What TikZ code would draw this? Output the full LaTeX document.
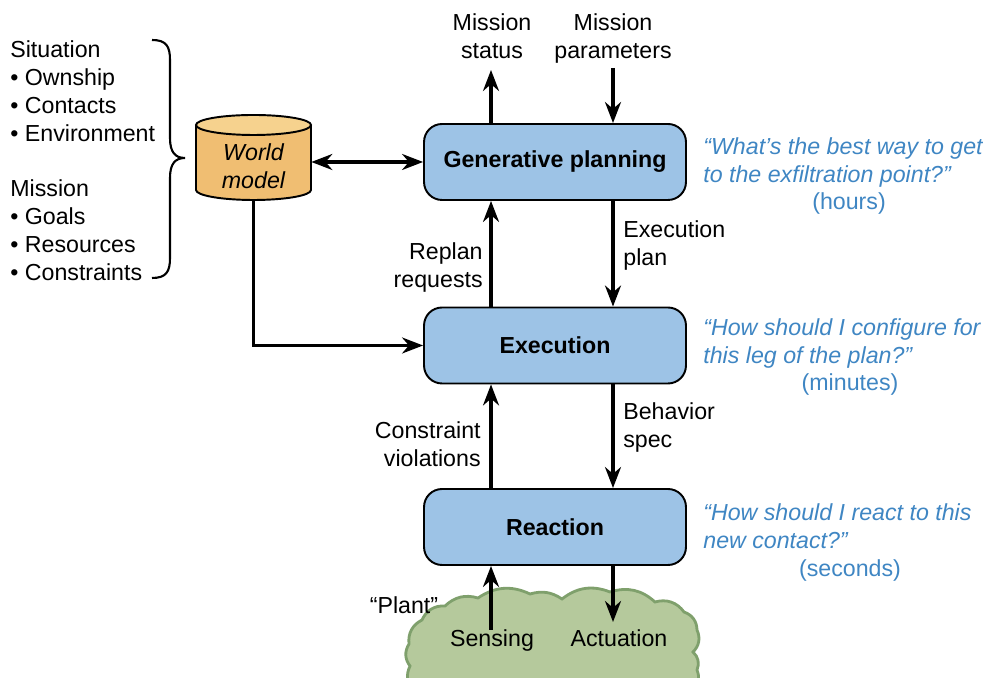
\documentclass[tikz,border=0pt]{standalone}
\usepackage{fontspec}
\setmainfont{Liberation Sans}
\usetikzlibrary{arrows.meta,calc}
\definecolor{boxblue}{HTML}{9DC3E6}
\definecolor{wmbody}{HTML}{F0BE72}
\definecolor{wmtop}{HTML}{F6D28E}
\definecolor{cloudfill}{HTML}{B5C99C}
\definecolor{cloudline}{HTML}{7FA06C}
\definecolor{qblue}{HTML}{3F86C3}
\tikzset{
  txt/.style={font=\fontsize{13.2}{15.9}\selectfont, inner sep=0pt, text=black},
  layer/.style={draw=black, line width=1.1pt, fill=boxblue, rounded corners=0.36cm,
    minimum width=5.24cm, minimum height=1.52cm, font=\fontsize{13.2}{15.9}\selectfont\bfseries},
  arr/.style={line width=1.8pt, -{Stealth[length=0.42cm,width=0.32cm]}},
  dblarr/.style={line width=1.8pt, {Stealth[length=0.42cm,width=0.32cm]}-{Stealth[length=0.42cm,width=0.32cm]}},
  quotetxt/.style={inner sep=0pt, text=qblue, font=\fontsize{13.2}{15.9}\selectfont\itshape, align=left},
  timetxt/.style={inner sep=0pt, text=qblue, font=\fontsize{13.2}{15.9}\selectfont},
}
\begin{document}
\begin{tikzpicture}[x=0.02cm,y=0.02cm]
\path[use as bounding box, clip] (0,0) rectangle (983,678);

% cloud ("Plant")
\path[fill=cloudfill, draw=cloudline, line width=1.6pt]
  (412,-12) to[bend left=30] (410,12) to[bend left=35] (409,34) to[bend left=35] (422,58)
  to[bend left=35] (445,72) to[bend left=30] (478,80) to[bend left=30] (530,84)
  to[bend left=25] (562,79) to[bend left=30] (610,86) to[bend left=30] (655,76)
  to[bend left=35] (684,66) to[bend left=35] (697,48) to[bend left=35] (693,26)
  to[bend left=35] (697,8) to[bend left=30] (694,-12) -- cycle;

% world model cylinder
\path[fill=wmbody, draw=black, line width=1.1pt] (196,553) -- (196,488)
  arc[start angle=180, end angle=360, x radius=57.5, y radius=10] -- (311,553);
\draw[fill=wmtop, line width=1.1pt] (253.5,553) ellipse[x radius=57.5, y radius=10];
\node[txt, font=\fontsize{13.2}{15.9}\selectfont\itshape, align=center,
  minimum width=2.3cm, minimum height=1.34cm] (wm) at (253.5,511.5) {World\\model};

% layers
\node[layer] (gen) at (555,516) {Generative planning};
\node[layer] (exe) at (555,332.5) {Execution};
\node[layer] (rea) at (555,151) {Reaction};

% left list and brace
\node[txt, anchor=north west, align=left] (sit) at (10,637.4)
  {Situation\\• Ownship\\• Contacts\\• Environment};
\node[txt, anchor=north west, align=left] (mis) at (10,498.4)
  {Mission\\• Goals\\• Resources\\• Constraints};
\draw[line width=1.2pt] (152,638) .. controls (166,638) and (170,632) .. (170,618)
  -- (170,540) .. controls (170,526) and (175,520) .. (185,520)
  .. controls (175,520) and (170,514) .. (170,500)
  -- (170,420) .. controls (170,406) and (166,400) .. (152,400);

% top labels
\node[txt, align=center, anchor=north] (mstat) at (492,664.4) {Mission\\status};
\node[txt, align=center, anchor=north] (mpar) at (613,664.4) {Mission\\parameters};
\coordinate (mstip) at (491,608);
\coordinate (mpstart) at (613,610);

% connector labels
\node[txt, anchor=north west, align=left] (eplan) at (623,457.4) {Execution\\plan};
\node[txt, anchor=north east, align=right] (replan) at (483,435.4) {Replan\\requests};
\node[txt, anchor=north west, align=left] (bspec) at (623,275.4) {Behavior\\spec};
\node[txt, anchor=north east, align=right] (cviol) at (481,256.4) {Constraint\\violations};
\node[txt, anchor=north] (plant) at (404,81.4) {“Plant”};
\node[txt, anchor=north] (sens) at (492,48.4) {Sensing};
\node[txt, anchor=north] (act) at (619,48.4) {Actuation};
\coordinate (acttip) at (613,56);

% quotes
\node[quotetxt, anchor=north west] (q1) at (703,540.4)
  {“What’s the best way to get\\to the exfiltration point?”};
\node[timetxt, anchor=north] (t1) at (849,485.4) {(hours)};
\node[quotetxt, anchor=north west] (q2) at (703,359.4)
  {“How should I configure for\\this leg of the plan?”};
\node[timetxt, anchor=north] (t2) at (850,304.4) {(minutes)};
\node[quotetxt, anchor=north west] (q3) at (703,174.4)
  {“How should I react to this\\new contact?”};
\node[timetxt, anchor=north] (t3) at (850,118.4) {(seconds)};

% connectors
\draw[dblarr] (wm.east |- gen.west) -- (gen.west);
\draw[arr] (wm.south) |- (exe.west);
\draw[arr] (mstip |- gen.north) -- (mstip);
\draw[arr] (mpstart) -- (mpstart |- gen.north);
\draw[arr] ([xshift=-1.28cm]exe.north) -- ([xshift=-1.28cm]gen.south);
\draw[arr] ([xshift=1.16cm]gen.south) -- ([xshift=1.16cm]exe.north);
\draw[arr] ([xshift=-1.28cm]rea.north) -- ([xshift=-1.28cm]exe.south);
\draw[arr] ([xshift=1.16cm]exe.south) -- ([xshift=1.16cm]rea.north);
\draw[arr] ([xshift=-0.02cm]sens.north) -- ([xshift=-0.02cm]sens.north |- rea.south);
\draw[arr] (acttip |- rea.south) -- (acttip);
\end{tikzpicture}
\end{document}
